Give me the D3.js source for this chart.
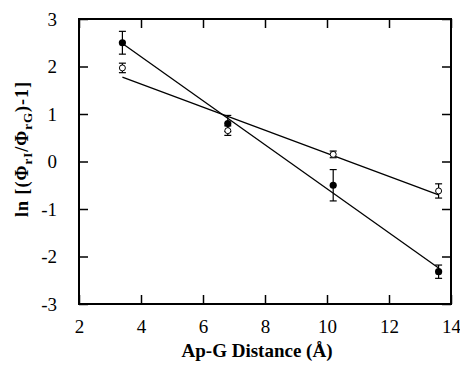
<!DOCTYPE html>
<html>
<head>
<meta charset="utf-8">
<script src="https://cdn.jsdelivr.net/npm/d3@7"></script>
<style>
  html, body { margin: 0; padding: 0; background: #fff; }
  svg { display: block; }
  text { font-family: "Liberation Serif", "Times New Roman", "DejaVu Serif", serif; fill: #000; }
</style>
</head>
<body>
<svg id="chart" width="460" height="365"></svg>
<script>
// Distance between Ap and G (Å)
const distance = [3.4, 6.8, 10.2, 13.6];

// Filled-circle series: ln[(Φ_rI/Φ_rG)-1] and its error
const filledValues = [2.50, 0.80, -0.50, -2.32];
const filledErrors = [0.24, 0.17, 0.33, 0.14];

// Open-circle series
const openValues = [1.97, 0.65, 0.15, -0.62];
const openErrors = [0.10, 0.10, 0.07, 0.15];

const xTicks = [2, 4, 6, 8, 10, 12, 14];
const yTicks = [-3, -2, -1, 0, 1, 2, 3];

const svg = d3.select("#chart");
const margin = { left: 79, right: 9, top: 19, bottom: 61 };
const W = 460, H = 365;

const x = d3.scaleLinear().domain([2, 14]).range([margin.left, W - margin.right]);
const y = d3.scaleLinear().domain([-3, 3]).range([H - margin.bottom, margin.top]);

const tickLen = 9;
const plain = d => String(d); // hyphen-minus labels, no decimals

// Ticks on all four sides, pointing inward
const axB = svg.append("g").attr("transform", `translate(0,${y(-3)})`)
  .call(d3.axisBottom(x).tickValues(xTicks).tickFormat(plain).tickSizeInner(-tickLen).tickSizeOuter(0).tickPadding(16));
const axT = svg.append("g").attr("transform", `translate(0,${y(3)})`)
  .call(d3.axisTop(x).tickValues(xTicks).tickSizeInner(-tickLen).tickSizeOuter(0).tickFormat(""));
const axL = svg.append("g").attr("transform", `translate(${x(2)},0)`)
  .call(d3.axisLeft(y).tickValues(yTicks).tickFormat(plain).tickSizeInner(-tickLen).tickSizeOuter(0).tickPadding(22));
const axR = svg.append("g").attr("transform", `translate(${x(14)},0)`)
  .call(d3.axisRight(y).tickValues(yTicks).tickSizeInner(-tickLen).tickSizeOuter(0).tickFormat(""));

[axB, axT, axL, axR].forEach(g => {
  g.attr("font-family", null).attr("font-size", null);
  g.select(".domain").remove();
  g.selectAll(".tick line").attr("stroke", "#000").attr("stroke-width", 1.5);
  g.selectAll(".tick text").attr("font-size", 19).attr("fill", "#000");
});
axL.selectAll(".tick text").attr("dy", "0.33em");

// Frame
svg.append("rect")
  .attr("x", x(2)).attr("y", y(3))
  .attr("width", x(14) - x(2)).attr("height", y(-3) - y(3))
  .attr("fill", "none").attr("stroke", "#000").attr("stroke-width", 2);

// Least-squares fit lines over the measured range
function fit(xs, ys) {
  const mx = d3.mean(xs), my = d3.mean(ys);
  const sxy = d3.sum(xs, (v, i) => (v - mx) * (ys[i] - my));
  const sxx = d3.sum(xs, v => (v - mx) * (v - mx));
  const b = sxy / sxx, a = my - b * mx;
  const x0 = d3.min(xs), x1 = d3.max(xs);
  return [[x0, a + b * x0], [x1, a + b * x1]];
}
const line = d3.line().x(d => x(d[0])).y(d => y(d[1]));
[filledValues, openValues].forEach(vals => {
  svg.append("path").attr("d", line(fit(distance, vals)))
    .attr("fill", "none").attr("stroke", "#000").attr("stroke-width", 1.3);
});

// Error bars
function errorBars(vals, errs) {
  const g = svg.append("g").attr("stroke", "#000").attr("stroke-width", 1.2);
  distance.forEach((d, i) => {
    const cx = x(d), t = y(vals[i] + errs[i]), b = y(vals[i] - errs[i]);
    g.append("line").attr("x1", cx).attr("x2", cx).attr("y1", t).attr("y2", b);
    g.append("line").attr("x1", cx - 3.5).attr("x2", cx + 3.5).attr("y1", t).attr("y2", t);
    g.append("line").attr("x1", cx - 3.5).attr("x2", cx + 3.5).attr("y1", b).attr("y2", b);
  });
}
errorBars(filledValues, filledErrors);
errorBars(openValues, openErrors);

// Markers
svg.append("g").selectAll("circle").data(filledValues).join("circle")
  .attr("cx", (d, i) => x(distance[i])).attr("cy", d => y(d))
  .attr("r", 3.6).attr("fill", "#000");
svg.append("g").selectAll("circle").data(openValues).join("circle")
  .attr("cx", (d, i) => x(distance[i])).attr("cy", d => y(d))
  .attr("r", 3).attr("fill", "#fff").attr("stroke", "#000").attr("stroke-width", 1);

// Axis titles
svg.append("text")
  .attr("x", 257).attr("y", 357)
  .attr("text-anchor", "middle").attr("font-weight", "bold").attr("font-size", 19)
  .text("Ap-G Distance (Å)");

const yt = svg.append("text")
  .attr("transform", `translate(28,149) rotate(-90)`)
  .attr("text-anchor", "middle").attr("font-weight", "bold").attr("font-size", 18)
  .attr("letter-spacing", 1);
yt.append("tspan").text("ln [(Φ");
yt.append("tspan").attr("font-size", 13).attr("dy", 4).text("rI");
yt.append("tspan").attr("dy", -4).text("/Φ");
yt.append("tspan").attr("font-size", 13).attr("dy", 4).text("rG");
yt.append("tspan").attr("dy", -4).text(")-1]");
</script>
</body>
</html>
